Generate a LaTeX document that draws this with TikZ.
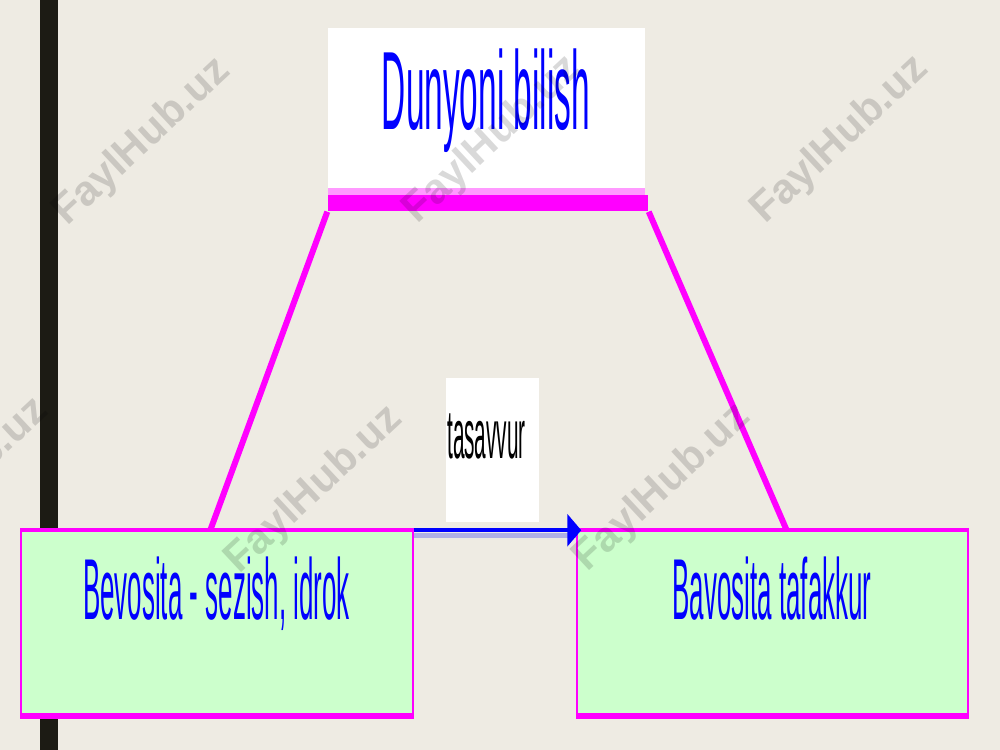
\documentclass[tikz,border=0pt]{standalone}
\usepackage{fontspec}
\setmainfont{Liberation Sans}
\usetikzlibrary{arrows.meta}
\definecolor{paper}{HTML}{EEEBE3}
\definecolor{mag}{HTML}{FF00FF}
\definecolor{lightmag}{HTML}{FF99FF}
\definecolor{mint}{HTML}{CCFFCC}
\definecolor{rule}{HTML}{1C1B14}
\definecolor{paleblue}{HTML}{B0B0E6}
\newcommand{\narrow}[1]{\scalebox{0.3}[1]{#1}}
\tikzset{
  whitebox/.style={fill=white, inner sep=0pt},
  greenbox/.style={fill=mint, draw=mag, line width=0.15mm, inner sep=0pt,
    minimum width=39.2mm, minimum height=18.4mm},
  edge/.style={mag, line width=0.6mm},
  txt/.style={anchor=base, inner sep=0pt, text=blue},
  arr/.style={blue, line width=0.4mm, -{Triangle[length=1.4mm,width=3.2mm]},
    shorten >=-0.5mm},
  wm/.style={rotate=43, text=black, text opacity=0.15,
    font=\bfseries\fontsize{12}{12}\selectfont}
}
\begin{document}
\begin{tikzpicture}[x=0.1mm,y=-0.1mm]
\useasboundingbox (0,0) rectangle (1000,750);
\fill[paper] (0,0) rectangle (1000,750);
\fill[rule] (40,0) rectangle (58,750);

\node[whitebox, minimum width=31.7mm, minimum height=16mm] (dun) at (486.5,108) {};
\node[fill=lightmag, inner sep=0pt, minimum width=31.7mm, minimum height=0.7mm] (strip) at (486.5,191.5) {};
\node[fill=mag, inner sep=0pt, minimum width=32mm, minimum height=1.6mm] (bar) at (488,203) {};
\node[txt, font=\fontsize{31.7}{34}\selectfont] at (486,130) {\narrow{Dunyoni bilish}};

\coordinate (footL) at (210,531);
\coordinate (footR) at (787,531);
\draw[edge] (bar.south west) -- (footL);
\draw[edge] (bar.south east) -- (footR);

\node[whitebox, minimum width=9.3mm, minimum height=14.4mm] (tas) at (492.5,450) {};
\node[txt, text=black, font=\fontsize{19.7}{22}\selectfont] at (486.5,459) {\narrow{tasavvur}};

\node[greenbox] (bev) at (217,623) {};
\node[greenbox, minimum width=39.1mm] (taf) at (772.5,623) {};
\foreach \b in {bev,taf}{
  \draw[mag, line width=0.45mm] (\b.north west) -- (\b.north east);
  \draw[mag, line width=0.6mm] (\b.south west) -- (\b.south east);
}
\node[txt, font=\fontsize{24.6}{27}\selectfont] at (216.5,619) {\narrow{Bevosita - sezish, idrok}};
\node[txt, font=\fontsize{24.6}{27}\selectfont] at (772,619) {\narrow{Bavosita tafakkur}};

\draw[paleblue, line width=0.5mm] ([yshift=-0.55mm]bev.north east) -- ([yshift=-0.55mm]taf.north west);
\draw[arr] (bev.north east) -- (taf.north west);

\foreach \p in {(142,142),(492,140),(840,140),(-40,482),(314,490),(662,488)}
  \node[wm] at \p {FaylHub.uz};
\end{tikzpicture}
\end{document}
